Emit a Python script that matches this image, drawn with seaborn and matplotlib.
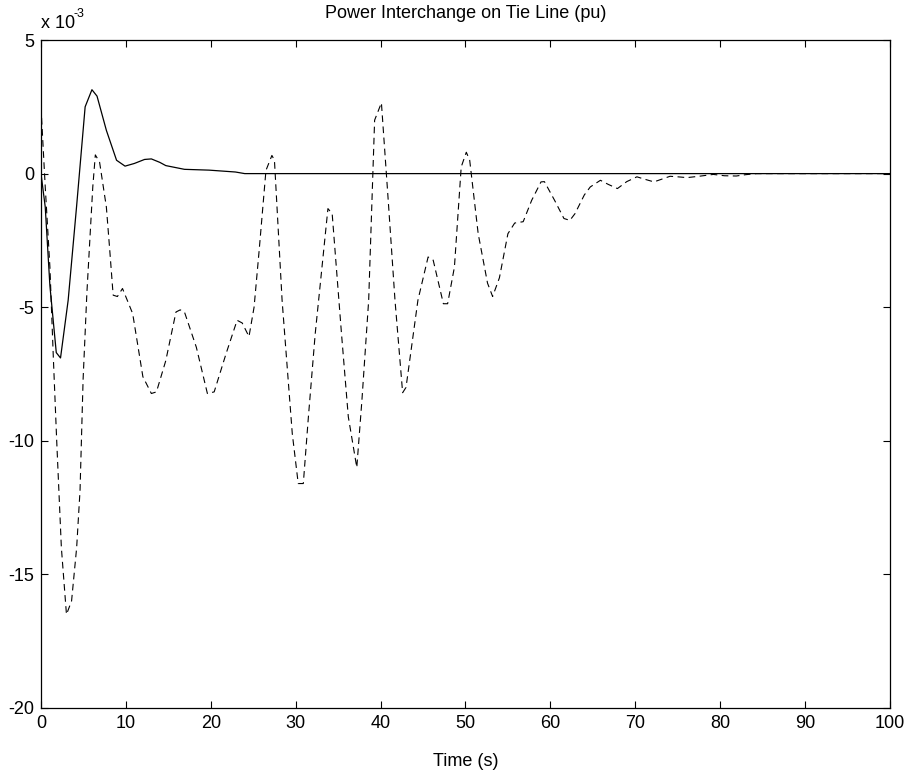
import matplotlib
matplotlib.use("Agg")
import matplotlib.pyplot as plt
import seaborn as sns
import numpy as np
from matplotlib.ticker import FuncFormatter, MultipleLocator

# solid curve: time (s) and tie-line power (x 1e-3 pu)
t_solid = [0, 0.5, 1.05, 1.8, 2.3, 3.2, 4.2, 5.2, 6.0, 6.6, 7.7, 8.9, 9.9,
           11.0, 12.2, 13.0, 14.0, 14.7, 16.9, 19.8, 22.9, 24.0, 100]
p_solid = [0, -1.25, -4.2, -6.7, -6.9, -4.74, -1.2, 2.5, 3.14, 2.9, 1.62, 0.5, 0.28,
           0.38, 0.53, 0.55, 0.42, 0.3, 0.16, 0.13, 0.06, 0, 0]

# dashed curve
t_dash = [0, 0.5, 1.05, 1.45, 1.85, 2.4, 3.0, 3.6, 4.2, 4.6, 4.96, 5.3, 5.4, 6.1,
          6.4, 6.9, 7.7, 8.1, 8.5, 9.0, 9.6, 10.8, 12.0, 13.0, 13.6, 14.7, 15.9,
          16.4, 16.9, 18.3, 19.6, 20.4, 21.8, 23.1, 23.7, 24.5, 25.1, 25.7, 26.5,
          27.2, 27.5, 28.4, 29.6, 30.3, 30.9, 31.5, 32.3, 33.1, 33.8, 34.3, 35.4,
          36.2, 37.2, 37.8, 38.6, 39.3, 40.1, 40.9, 41.7, 42.6, 43.0, 44.4, 45.6,
          46.2, 47.4, 47.9, 48.7, 49.5, 50.1, 50.5, 51.5, 52.6, 53.2, 54.0, 55.0,
          55.8, 56.8, 57.8, 58.9, 59.3, 60.5, 61.6, 62.3, 62.9, 64.0, 64.7, 65.9,
          66.8, 67.9, 69.0, 70.2, 71.0, 72.2, 73.2, 74.1, 75.0, 76.1, 77.5, 79.2,
          80.5, 81.9, 83.0, 84.3, 100]
p_dash = [2.5, -0.5, -3.5, -6.86, -10.0, -14.0, -16.5, -16.0, -14.0, -11.85, -7.7,
          -5.24, -4.5, -0.5, 0.7, 0.43, -1.25, -2.87, -4.55, -4.6, -4.3, -5.24,
          -7.6, -8.23, -8.17, -7.0, -5.18, -5.1, -5.18, -6.5, -8.23, -8.17, -6.74,
          -5.49, -5.59, -6.1, -5.0, -2.87, 0.12, 0.68, 0.5, -4.74, -9.73, -11.6,
          -11.6, -9.1, -6.0, -3.5, -1.31, -1.5, -6.0, -9.1, -11.0, -8.5, -4.74,
          2.0, 2.65, -0.99, -4.74, -8.2, -8.0, -4.74, -3.12, -3.24, -4.87, -4.87,
          -3.5, 0.25, 0.8, 0.5, -2.25, -4.1, -4.6, -3.9, -2.25, -1.85, -1.8, -1.0,
          -0.31, -0.3, -1.0, -1.68, -1.75, -1.5, -0.8, -0.5, -0.25, -0.4, -0.56,
          -0.3, -0.12, -0.2, -0.31, -0.2, -0.1, -0.12, -0.15, -0.1, -0.03, -0.08,
          -0.09, -0.04, 0, 0]

sns.set_theme(style="ticks")
plt.rcParams["font.family"] = ["Liberation Sans", "DejaVu Sans"]
plt.rcParams["xtick.direction"] = "in"
plt.rcParams["ytick.direction"] = "in"

fig = plt.figure(figsize=(9.09, 7.74), dpi=100)
ax = fig.add_axes([0.0451, 0.0853, 0.9339, 0.863])

sns.lineplot(x=t_solid, y=np.array(p_solid) * 1e-3, ax=ax, color="black",
             linewidth=0.9, estimator=None, sort=False)
sns.lineplot(x=t_dash, y=np.array(p_dash) * 1e-3, ax=ax, color="black",
             linewidth=0.8, estimator=None, sort=False, dashes=False)
ax.lines[-1].set_dashes([6, 4])

ax.set_xlim(0, 100)
ax.set_ylim(-0.020, 0.005)
ax.xaxis.set_major_locator(MultipleLocator(10))
ax.yaxis.set_major_locator(MultipleLocator(0.005))
ax.yaxis.set_major_formatter(FuncFormatter(lambda v, pos: f"{v * 1e3:g}"))

ax.tick_params(axis="both", which="both", top=True, right=True, length=5,
               width=0.8, color="black", labelsize=13, pad=5, labelcolor="black")
for s in ax.spines.values():
    s.set_visible(True)
    s.set_color("black")
    s.set_linewidth(0.9)

ax.set_title("Power Interchange on Tie Line (pu)", fontsize=13, pad=16, color="black")
ax.set_xlabel("Time (s)", fontsize=13, labelpad=15, color="black")
ax.text(0.0, 1.018, "x 10", transform=ax.transAxes, ha="left", va="baseline",
        fontsize=13, color="black")
ax.text(0.0385, 1.034, "-3", transform=ax.transAxes, ha="left", va="baseline",
        fontsize=9, color="black")

fig.savefig("out.png", dpi=100)
